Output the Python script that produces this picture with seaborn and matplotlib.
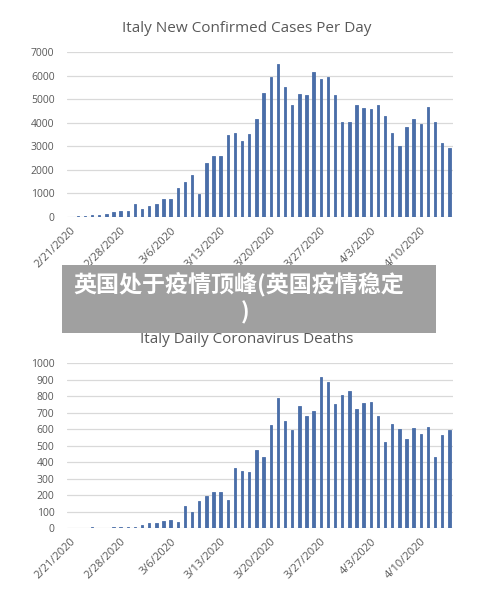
import matplotlib
matplotlib.use("Agg")
import matplotlib.pyplot as plt
import seaborn as sns
import pandas as pd
import numpy as np
from matplotlib.patches import Rectangle

# ---- data ----
dates = pd.date_range("2020-02-21", "2020-04-14", freq="D")
date_labels = [f"{d.month}/{d.day}/{d.year}" for d in dates]

cases = [20, 30, 60, 70, 70, 110, 200, 240, 240, 560,
         330, 450, 560, 750, 760, 1240, 1490, 1800, 970, 2310,
         2600, 2590, 3480, 3590, 3230, 3510, 4170, 5290, 5970, 6520,
         5530, 4780, 5220, 5180, 6170, 5880, 5930, 5180, 4020, 4020,
         4770, 4650, 4580, 4770, 4300, 3580, 3030, 3820, 4170, 3950,
         4660, 4050, 3150, 2950]

deaths = [1, 1, 1, 4, 3, 2, 5, 4, 8, 5,
          18, 29, 30, 42, 49, 36, 132, 97, 166, 196,
          218, 218, 172, 365, 348, 343, 473, 429, 627, 789,
          650, 598, 741, 680, 713, 915, 887, 751, 806, 832,
          723, 757, 763, 677, 522, 632, 604, 541, 609, 572,
          616, 429, 566, 598]

top_title = "Italy New Confirmed Cases Per Day"
bottom_title = "Italy Daily Coronavirus Deaths"
banner_line1 = "英国处于疫情顶峰(英国疫情稳定"
banner_line2 = ")"

df = pd.DataFrame({"date": date_labels, "cases": cases, "deaths": deaths})

# ---- style ----
sns.set_theme(style="white")
plt.rcParams["font.family"] = ["Open Sans", "DejaVu Sans"]

bar_color = "#4a6ea8"
text_gray = "#595959"
grid_gray = "#d9d9d9"

fig = plt.figure(figsize=(5.0, 5.99), dpi=100)
ax1 = fig.add_axes([0.134, 0.6377, 0.772, 0.275])
ax2 = fig.add_axes([0.134, 0.1185, 0.772, 0.275])

def style_axis(ax, col, ymax, ystep):
    sns.barplot(data=df, x="date", y=col, order=date_labels, color=bar_color,
                width=0.34, saturation=1, ax=ax, zorder=3,
                edgecolor=bar_color, linewidth=0.6)
    ax.set_ylim(0, ymax)
    ax.set_xlim(-0.5, len(date_labels) - 0.5)
    ax.set_yticks(np.arange(0, ymax + 1, ystep))
    ax.yaxis.grid(True, color=grid_gray, linewidth=0.9, zorder=0)
    ax.set_axisbelow(True)
    for s in ax.spines.values():
        s.set_visible(False)
    ticks = list(range(0, len(date_labels), 7))
    ax.set_xticks(ticks)
    ax.set_xticklabels([date_labels[i] for i in ticks], rotation=45,
                       ha="right", rotation_mode="anchor")
    ax.tick_params(axis="y", length=0, labelsize=7.5, colors=text_gray, pad=9)
    ax.tick_params(axis="x", length=0, labelsize=8, colors=text_gray, pad=6)
    ax.set_xlabel("")
    ax.set_ylabel("")

style_axis(ax1, "cases", 7000, 1000)
style_axis(ax2, "deaths", 1000, 100)

fig.text(0.493, 0.953, top_title, ha="center", va="center",
         fontsize=11, color=text_gray)
fig.text(0.494, 0.434, bottom_title, ha="center", va="center",
         fontsize=11, color=text_gray)

# ---- overlay banner ----
fig.patches.append(Rectangle((62 / 500, 1 - 333 / 599), (436 - 62) / 500,
                             (333 - 265) / 599, transform=fig.transFigure,
                             facecolor="#a0a0a0", edgecolor="none", zorder=10))
fig.text(73 / 500, 1 - 284 / 599, banner_line1, ha="left", va="center",
         fontsize=16.6, fontweight=900, color="white",
         family=["Noto Sans CJK SC", "DejaVu Sans"], zorder=11)
fig.text(245 / 500, 1 - 313 / 599, banner_line2, ha="center", va="center",
         fontsize=16.6, fontweight=900, color="white",
         family=["Noto Sans CJK SC", "DejaVu Sans"], zorder=11)

fig.savefig("out.png", dpi=100)
